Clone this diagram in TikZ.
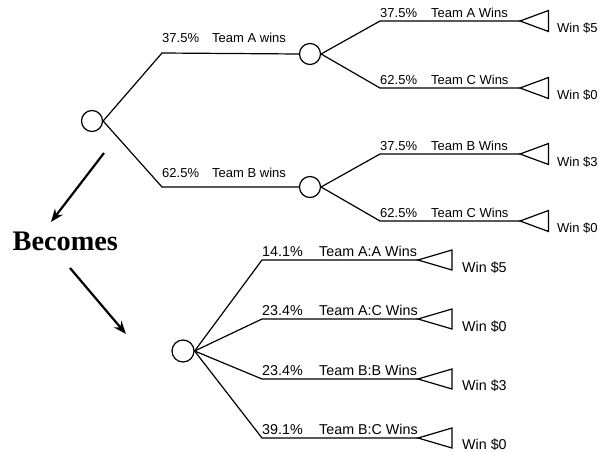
\documentclass[tikz,border=0pt]{standalone}
\usepackage{fontspec}
\setmainfont{Liberation Serif}
\newfontfamily\arialf{Liberation Sans}
\usetikzlibrary{arrows.meta}
\begin{document}
\begin{tikzpicture}[x=1pt,y=-1pt,
  chance/.style={draw,circle,line width=1.2pt,minimum size=21pt,inner sep=0pt},
  branch/.style={line width=1.2pt},
  endtri/.style={line width=1.2pt},
  lab/.style={anchor=base west,inner sep=0pt,font=\arialf\fontsize{13}{15}\selectfont},
  labb/.style={anchor=base west,inner sep=0pt,font=\arialf\fontsize{14.3}{16}\selectfont},
  bigarrow/.style={line width=2.2pt,-{Stealth[length=13pt,width=10pt]}}]
\useasboundingbox (0,0) rectangle (602,452);
% ---------- upper tree ----------
\node[chance] (c0) at (92,121) {};
\node[chance] (c1) at (310,54) {};
\node[chance] (c2) at (310,187) {};
\coordinate (b1) at (162,53);
\coordinate (b2) at (162,187);
\draw[branch] (c0.east) -- (b1) -- (c1.west);
\draw[branch] (c0.east) -- (b2) -- (c2.west);
\node[lab] (p1) at (162,43) {37.5\%};
\node[lab] (l1) at (212,43) {Team A wins};
\node[lab] (p2) at (162,177) {62.5\%};
\node[lab] (l2) at (212,177) {Team B wins};
% second level
\coordinate (d1) at (380,21);
\coordinate (d2) at (380,88);
\coordinate (d3) at (380,154);
\coordinate (d4) at (380,221);
\coordinate (t1) at (520,21);
\coordinate (t2) at (520,88);
\coordinate (t3) at (520,154);
\coordinate (t4) at (520,221);
\draw[branch] (c1.east) -- (d1) -- (t1);
\draw[branch] (c1.east) -- (d2) -- (t2);
\draw[branch] (c2.east) -- (d3) -- (t3);
\draw[branch] (c2.east) -- (d4) -- (t4);
\foreach \t in {t1,t2,t3,t4}{
  \draw[endtri] (\t) -- ++(28.5,-10.5) -- ++(0,21) -- cycle;
}
\node[lab] (q1) at (380,17.5) {37.5\%};
\node[lab] (m1) at (431,17.5) {Team A Wins};
\node[lab] (q2) at (380,84.5) {62.5\%};
\node[lab] (m2) at (431,84.5) {Team C Wins};
\node[lab] (q3) at (380,150.5) {37.5\%};
\node[lab] (m3) at (431,150.5) {Team B Wins};
\node[lab] (q4) at (380,217.5) {62.5\%};
\node[lab] (m4) at (431,217.5) {Team C Wins};
\node[lab] (w1) at (557,33) {Win \$5};
\node[lab] (w2) at (557,99) {Win \$0};
\node[lab] (w3) at (557,166) {Win \$3};
\node[lab] (w4) at (557,232) {Win \$0};
% ---------- Becomes ----------
\node[anchor=base west,inner sep=0pt,font=\bfseries\fontsize{28.3}{31}\selectfont] (bec) at (12.5,250) {Becomes};
\coordinate (a1s) at (104,153);
\coordinate (a1e) at (51,222);
\coordinate (a2s) at (70,268);
\coordinate (a2e) at (126,334);
\draw[bigarrow] (a1s) -- (a1e);
\draw[bigarrow] (a2s) -- (a2e);
% ---------- lower tree ----------
\node[chance,minimum size=22pt] (r0) at (183,351) {};
\coordinate (e1) at (262,260);
\coordinate (e2) at (262,319);
\coordinate (e3) at (262,379);
\coordinate (e4) at (262,438);
\coordinate (u1) at (418,260);
\coordinate (u2) at (418,319);
\coordinate (u3) at (418,379);
\coordinate (u4) at (418,438);
\draw[branch] (r0.east) -- (e1) -- (u1);
\draw[branch] (r0.east) -- (e2) -- (u2);
\draw[branch] (r0.east) -- (e3) -- (u3);
\draw[branch] (r0.east) -- (e4) -- (u4);
\foreach \t in {u1,u2,u3,u4}{
  \draw[endtri] (\t) -- ++(34,-10) -- ++(0,20) -- cycle;
}
\node[labb] (s1) at (262,256.5) {14.1\%};
\node[labb] (n1) at (319,256.5) {Team A:A Wins};
\node[labb] (s2) at (262,315.5) {23.4\%};
\node[labb] (n2) at (319,315.5) {Team A:C Wins};
\node[labb] (s3) at (262,375.5) {23.4\%};
\node[labb] (n3) at (319,375.5) {Team B:B Wins};
\node[labb] (s4) at (262,434.5) {39.1\%};
\node[labb] (n4) at (319,434.5) {Team B:C Wins};
\node[labb] (v1) at (462,272) {Win \$5};
\node[labb] (v2) at (462,331) {Win \$0};
\node[labb] (v3) at (462,390) {Win \$3};
\node[labb] (v4) at (462,449) {Win \$0};
\end{tikzpicture}
\end{document}
